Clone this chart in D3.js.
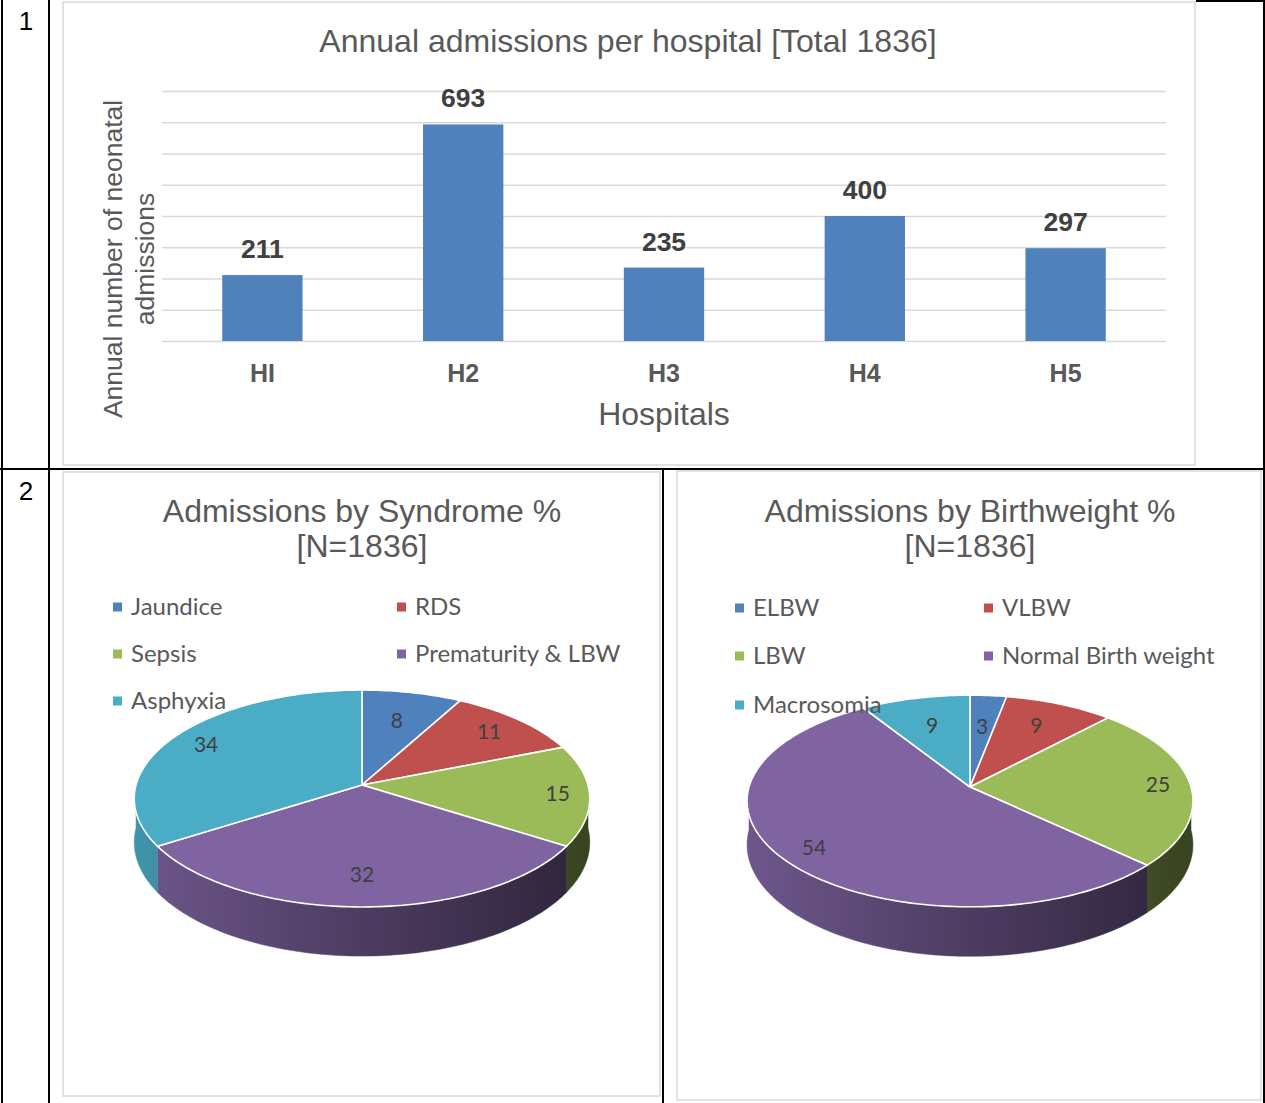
<!DOCTYPE html>
<html>
<head>
<meta charset="utf-8">
<script src="https://cdn.jsdelivr.net/npm/d3@7"></script>
<style>
  html, body { margin: 0; padding: 0; background: #fff; }
  svg { display: block; }
</style>
</head>
<body>
<svg id="page" width="1265" height="1103"></svg>
<script>
// ---- data ----
const hospitals = ["HI", "H2", "H3", "H4", "H5"];
const admissions = [211, 693, 235, 400, 297];
const admissionTicks = [0, 100, 200, 300, 400, 500, 600, 700, 800];

const syndromes = ["Jaundice", "RDS", "Sepsis", "Prematurity & LBW", "Asphyxia"];
const syndromePct = [8, 11, 15, 32, 34];

const birthweights = ["ELBW", "VLBW", "LBW", "Normal Birth weight", "Macrosomia"];
const birthweightPct = [3, 9, 25, 54, 9];

const sliceColors = ["#4f81bd", "#c0504d", "#9bbb59", "#8064a2", "#4bacc6"];
const barColor = "#4f81bd";

const svg = d3.select("#page");
const defs = svg.append("defs");
const SANS = "'Liberation Sans', Arial, sans-serif";
const LEGEND_FONT = "Lato, 'Open Sans', sans-serif";

// ---- table borders ----
const table = svg.append("g").attr("stroke", "#000").attr("fill", "none");
table.append("line").attr("x1", 2).attr("x2", 2).attr("y1", 0).attr("y2", 1103).attr("stroke-width", 2);
table.append("line").attr("x1", 49).attr("x2", 49).attr("y1", 0).attr("y2", 1103).attr("stroke-width", 2);
table.append("line").attr("x1", 1264).attr("x2", 1264).attr("y1", 0).attr("y2", 1103).attr("stroke-width", 2);
table.append("line").attr("x1", 1196).attr("x2", 1265).attr("y1", 1).attr("y2", 1).attr("stroke-width", 2);
table.append("line").attr("x1", 0).attr("x2", 1265).attr("y1", 469).attr("y2", 469).attr("stroke-width", 2);
table.append("line").attr("x1", 663).attr("x2", 663).attr("y1", 469).attr("y2", 1103).attr("stroke-width", 2);

svg.append("text").attr("x", 26).attr("y", 30).attr("text-anchor", "middle")
  .attr("font-family", SANS).attr("font-size", 26).attr("fill", "#000").text("1");
svg.append("text").attr("x", 26).attr("y", 500).attr("text-anchor", "middle")
  .attr("font-family", SANS).attr("font-size", 26).attr("fill", "#000").text("2");

// chart panels with light frames
function panel(x0, y0, x1, y1) {
  svg.append("rect").attr("x", x0).attr("y", y0).attr("width", x1 - x0).attr("height", y1 - y0)
    .attr("fill", "#fff").attr("stroke", "#d9d9d9").attr("stroke-width", 1.5);
}
panel(63, 2, 1195, 465);
panel(63, 472, 660, 1096);
panel(677, 471, 1261, 1100);

// ---- bar chart ----
const bar = svg.append("g");
const x = d3.scaleBand().domain(hospitals).range([162, 1166]).paddingInner(0.6).paddingOuter(0.3);
const y = d3.scaleLinear().domain([0, 800]).range([341, 91]);

bar.append("g")
  .attr("transform", "translate(162,0)")
  .call(d3.axisLeft(y).tickValues(admissionTicks).tickSize(-1004).tickFormat(""))
  .call(g => g.select(".domain").remove())
  .call(g => g.selectAll(".tick line").attr("stroke", "#d9d9d9").attr("stroke-width", 1.5));

bar.selectAll("rect.bar").data(admissions).join("rect")
  .attr("class", "bar")
  .attr("x", (d, i) => x(hospitals[i]))
  .attr("y", d => y(d))
  .attr("width", x.bandwidth())
  .attr("height", d => y(0) - y(d))
  .attr("fill", barColor);

bar.selectAll("text.val").data(admissions).join("text")
  .attr("class", "val")
  .attr("x", (d, i) => x(hospitals[i]) + x.bandwidth() / 2)
  .attr("y", d => y(d) - 17)
  .attr("text-anchor", "middle")
  .attr("font-family", SANS).attr("font-weight", "bold").attr("font-size", 26.5)
  .attr("fill", "#404040")
  .text(d => d);

bar.append("g")
  .attr("transform", "translate(0,341)")
  .call(d3.axisBottom(x).tickSize(0).tickPadding(23))
  .call(g => g.select(".domain").remove())
  .call(g => g.selectAll(".tick text")
    .attr("font-family", SANS).attr("font-weight", "bold").attr("font-size", 25)
    .attr("fill", "#595959"));

bar.append("text").attr("x", 664).attr("y", 425).attr("text-anchor", "middle")
  .attr("font-family", SANS).attr("font-size", 32).attr("fill", "#595959").text("Hospitals");

bar.append("text").attr("x", 628).attr("y", 52).attr("text-anchor", "middle")
  .attr("font-family", SANS).attr("font-size", 32).attr("fill", "#595959")
  .text("Annual admissions per hospital [Total 1836]");

const yTitle = bar.append("text")
  .attr("transform", "translate(0,259) rotate(-90)")
  .attr("text-anchor", "middle")
  .attr("font-family", SANS).attr("font-size", 26.5).attr("fill", "#595959");
yTitle.append("tspan").attr("x", 0).attr("y", 122).text("Annual number of neonatal");
yTitle.append("tspan").attr("x", 0).attr("y", 154).text("admissions");

// ---- 3D pie charts ----
function pie3d(cfg) {
  const { values, cx, cy, rx, ry, persp, depth, gid } = cfg;
  const g = svg.append("g");
  const arcs = d3.pie().sort(null).value(d => d)(values);

  // angle clockwise from 12 o'clock, f = radial fraction, dz = drop below top face
  const proj = (a, f = 1, dz = 0) => {
    const sx = Math.sin(a), fz = -Math.cos(a);
    const s = 1 / (1 - persp * f * fz);
    return [cx + rx * f * sx * s, cy + ry * f * fz * s + dz * s];
  };
  const arcPts = (a0, a1, dz) => {
    const n = Math.max(2, Math.ceil(Math.abs(a1 - a0) / 0.02));
    return d3.range(n + 1).map(k => proj(a0 + (a1 - a0) * k / n, 1, dz));
  };

  // side shading runs from left to right across the disc
  sliceColors.forEach((c, i) => {
    const grad = defs.append("linearGradient").attr("id", `${gid}-${i}`)
      .attr("gradientUnits", "userSpaceOnUse")
      .attr("x1", cx - rx).attr("x2", cx + rx).attr("y1", 0).attr("y2", 0);
    const base = d3.rgb(c);
    const shade = k => d3.rgb(base.r * k, base.g * k, base.b * k).formatHex();
    grad.append("stop").attr("offset", "0%").attr("stop-color", shade(0.86));
    grad.append("stop").attr("offset", "50%").attr("stop-color", shade(0.6));
    grad.append("stop").attr("offset", "100%").attr("stop-color", shade(0.36));
  });

  const line = d3.line();
  // outer walls on the front half of the disc
  arcs.forEach((d, i) => {
    const lo = Math.max(d.startAngle, Math.PI / 2);
    const hi = Math.min(d.endAngle, 3 * Math.PI / 2);
    if (hi <= lo) return;
    const pts = arcPts(lo, hi, 0).concat(arcPts(hi, lo, depth));
    g.append("path").attr("d", line(pts) + "Z")
      .attr("fill", `url(#${gid}-${i})`)
      .attr("stroke", `url(#${gid}-${i})`).attr("stroke-width", 0.5);
  });

  // top faces
  arcs.forEach((d, i) => {
    const pts = [proj(0, 0)].concat(arcPts(d.startAngle, d.endAngle, 0));
    g.append("path").attr("d", line(pts) + "Z")
      .attr("fill", sliceColors[i]).attr("stroke", "#fff").attr("stroke-width", 1.6)
      .attr("stroke-linejoin", "round");
  });

  // value labels: set in from the rim along the slice's mid direction
  const [ox, oy] = proj(0, 0);
  arcs.forEach((d) => {
    const [ex, ey] = proj((d.startAngle + d.endAngle) / 2, 1);
    const len = Math.hypot(ex - ox, ey - oy);
    const k = (len - 32) / len;
    g.append("text").attr("x", ox + (ex - ox) * k).attr("y", oy + (ey - oy) * k).attr("dy", "0.35em")
      .attr("text-anchor", "middle")
      .attr("font-family", LEGEND_FONT).attr("font-size", 21).attr("fill", "#404040")
      .text(d.data);
  });
  return g;
}

function titleAndLegend(cfg) {
  const { title, names, tx, ty, colX, rowY } = cfg;
  const t = svg.append("text").attr("text-anchor", "middle")
    .attr("font-family", SANS).attr("font-size", 32).attr("fill", "#595959");
  t.append("tspan").attr("x", tx).attr("y", ty).text(title[0]);
  t.append("tspan").attr("x", tx).attr("y", ty + 35).text(title[1]);

  const lg = svg.append("g");
  names.forEach((n, i) => {
    const lx = colX[i % 2], ly = rowY[Math.floor(i / 2)];
    lg.append("rect").attr("x", lx).attr("y", ly - 4.5).attr("width", 9).attr("height", 9)
      .attr("fill", sliceColors[i]);
    lg.append("text").attr("x", lx + 18).attr("y", ly).attr("dy", "0.35em")
      .attr("font-family", LEGEND_FONT).attr("font-size", 24).attr("fill", "#595959")
      .text(n);
  });
}

pie3d({ values: syndromePct, cx: 362, cy: 785, rx: 226, ry: 106.8,
        persp: 0.1244, depth: 43, gid: "synd" });
pie3d({ values: birthweightPct, cx: 970, cy: 787, rx: 221, ry: 104,
        persp: 0.132, depth: 43, gid: "bw" });

titleAndLegend({ title: ["Admissions by Syndrome %", "[N=1836]"], names: syndromes,
  tx: 362, ty: 522, colX: [113, 397], rowY: [607, 654, 701] });
titleAndLegend({ title: ["Admissions by Birthweight %", "[N=1836]"], names: birthweights,
  tx: 970, ty: 522, colX: [735, 984], rowY: [608, 656, 705] });
</script>
</body>
</html>
